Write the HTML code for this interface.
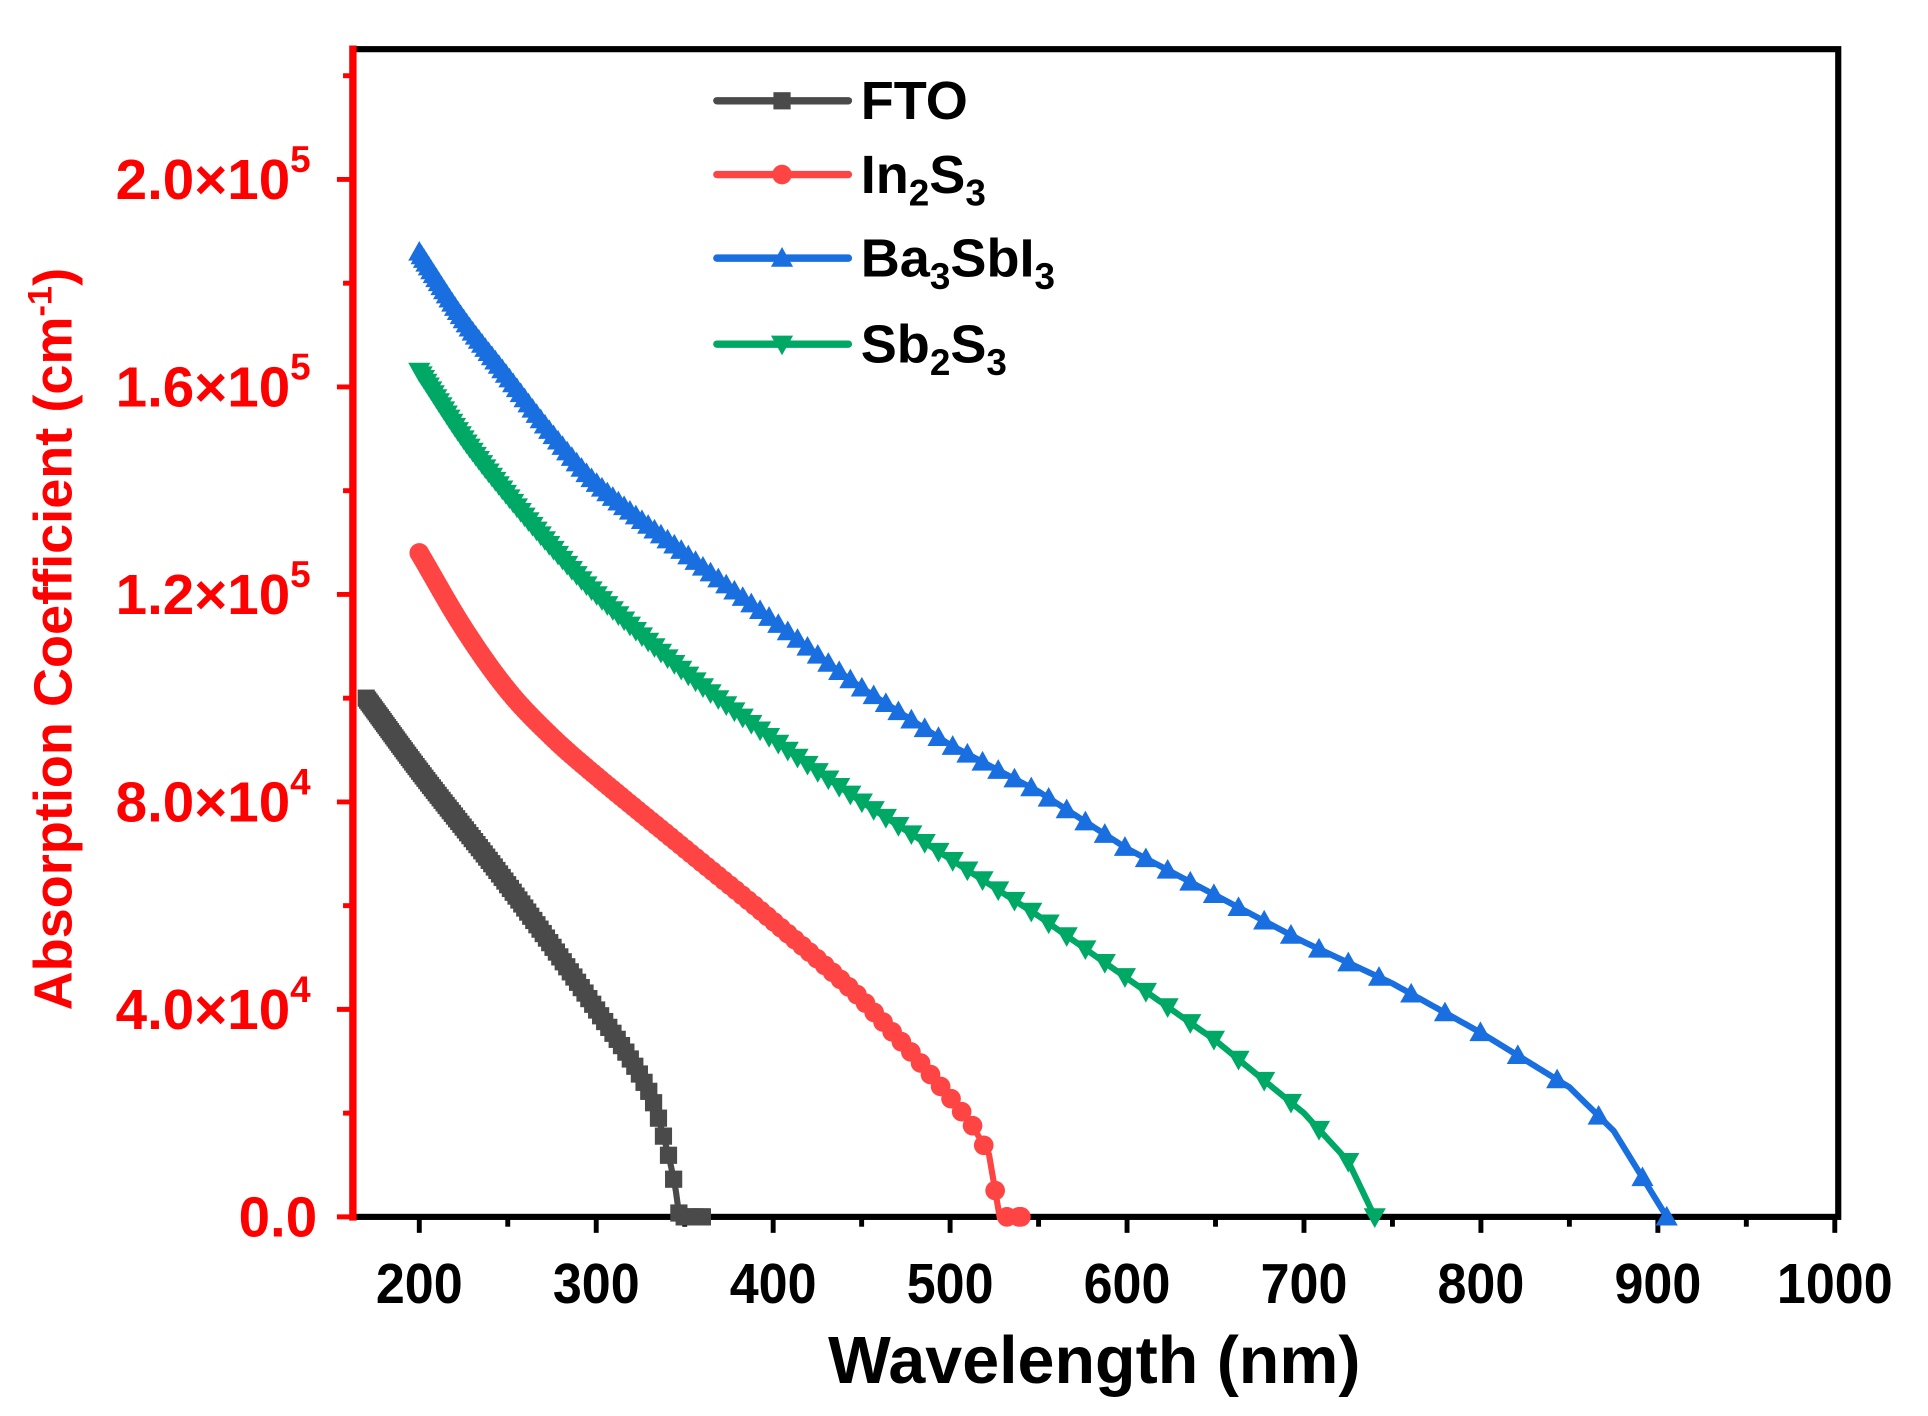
<!DOCTYPE html><html><head><style>html,body{margin:0;padding:0;background:#fff}svg{display:block}</style></head><body>
<svg id="s" width="1928" height="1416" viewBox="0 0 1568 1152" preserveAspectRatio="none" xmlns="http://www.w3.org/2000/svg" font-family="Liberation Sans, Arial, sans-serif" font-weight="bold"></svg>
<script>
const S=document.getElementById('s');const NS='http://www.w3.org/2000/svg';
function el(t,a,txt){const e=document.createElementNS(NS,t);for(const k in a)e.setAttribute(k,a[k]);if(txt!==undefined)e.textContent=txt;S.appendChild(e);return e;}
const X=v=>341+(v-200)*1.439, Y=v=>990-v/40000*168.8;
el('rect',{x:287,y:40,width:1208,height:950,fill:'none',stroke:'#000','stroke-width':5});
el('line',{x1:287,y1:37,x2:287,y2:993,stroke:'#f00','stroke-width':6});
for(let v=200;v<=1000;v+=50){const x=X(v);el('line',{x1:x,y1:990,x2:x,y2:v%100?998:1003,stroke:'#000','stroke-width':4});
 if(v%100==0)el('text',{x:x,y:1060,'text-anchor':'middle','font-size':46,transform:`translate(${x},0) scale(0.92,1) translate(${-x},0)`},v);}
for(let v=0;v<=220000;v+=20000){const y=Y(v);el('line',{x1:287,y1:y,x2:v%40000?279:274,y2:y,stroke:'#f00','stroke-width':4});}
const yl=['0.0','4.0×10','8.0×10','1.2×10','1.6×10','2.0×10'],ex=['','4','4','5','5','5'];
yl.forEach((t,i)=>{const y=Y(i*40000)+16;el('text',{x:ex[i]?236:258,y:y,'text-anchor':'end','font-size':46,fill:'#f00'},t);
 if(ex[i])el('text',{x:236,y:y-22,'font-size':30,fill:'#f00'},ex[i]);});
el('text',{x:890,y:1125,'text-anchor':'middle','font-size':54},'Wavelength (nm)');
const g=el('text',{transform:'translate(58,520) rotate(-90)','text-anchor':'middle','font-size':44,fill:'#f00'});
g.innerHTML='Absorption Coefficient (cm<tspan dy="-16" font-size="28">-1</tspan><tspan dy="16">)</tspan>';
const data={
fto:{c:'#4a4a4a',m:'sq',k:2.5e-5,p:[[170,100e3],[200,86e3],[250,64e3],[300,40e3],[330,24e3],[340,13e3],[345,5e3],[347,0],[360,0]]},
in:{c:'#f44',m:'ci',k:2.4e-5,p:[[200,128e3],[225,113.5e3],[250,101.5e3],[275,92.5e3],[300,85e3],[350,71e3],[400,57e3],[450,42e3],[480,31e3],[500,23e3],[512,18e3],[522,12e3],[528,0],[540,0]]},
ba:{c:'#1a6fe0',m:'up',k:3.3e-5,p:[[200,186e3],[225,173e3],[250,162e3],[275,151e3],[300,141.5e3],[350,128e3],[400,115e3],[450,102e3],[500,91e3],[550,82e3],[600,71e3],[650,62e3],[700,53e3],[750,45e3],[800,35.5e3],[850,25e3],[875,16.6e3],[905,0]]},
sb:{c:'#00a866',m:'dn',k:3.3e-5,p:[[200,163e3],[225,150e3],[250,139e3],[275,129e3],[300,120e3],[350,105e3],[400,92e3],[450,80e3],[500,69e3],[550,58e3],[600,46e3],[650,34e3],[700,20e3],[725,10.7e3],[740,0]]}};
function interp(p,x){for(let i=0;i<p.length-1;i++)if(x>=p[i][0]&&x<=p[i+1][0]){
 const p0=p[Math.max(0,i-1)],p1=p[i],p2=p[i+1],p3=p[Math.min(p.length-1,i+2)];
 const h=p2[0]-p1[0],t=(x-p1[0])/h;
 if(p1[0]>=450||p2[1]==0) return p1[1]+t*(p2[1]-p1[1]);
 const m1=(p2[1]-p0[1])/(p2[0]-p0[0]||1)*h, m2=(p3[1]-p1[1])/(p3[0]-p1[0]||1)*h;
 const t2=t*t,t3=t2*t;
 let v=(2*t3-3*t2+1)*p1[1]+(t3-2*t2+t)*m1+(-2*t3+3*t2)*p2[1]+(t3-t2)*m2;
 return Math.max(0,v);}return p[p.length-1][1];}
function mk(m,x,y,c){if(m=='sq')el('rect',{x:x-7,y:y-7,width:14,height:14,fill:c});
else if(m=='ci')el('circle',{cx:x,cy:y,r:8,fill:c});
else if(m=='up')el('polygon',{points:`${x},${y-9} ${x-9},${y+7} ${x+9},${y+7}`,fill:c});
else el('polygon',{points:`${x},${y+9} ${x-9},${y-7} ${x+9},${y-7}`,fill:c});}
for(const k in data){const d=data[k];const p=d.p;const xs=[];let x=p[0][0];const end=p[p.length-1][0];
 while(x<end){xs.push(x);x+=Math.max(0.8,d.k*x*x);}xs.push(end);
 const ln=[];for(let v=p[0][0];v<end;v+=1)ln.push(v);ln.push(end);
 el('polyline',{points:ln.map(v=>X(v)+','+Y(interp(p,v))).join(' '),fill:'none',stroke:d.c,'stroke-width':5});
 xs.forEach(v=>mk(d.m,X(v),Y(interp(p,v)),d.c));}
const L=[['fto',82,'FTO'],['in',142,'In<tspan dy="10" font-size="30">2</tspan><tspan dy="-10">S</tspan><tspan dy="10" font-size="30">3</tspan>'],['ba',210,'Ba<tspan dy="10" font-size="30">3</tspan><tspan dy="-10">SbI</tspan><tspan dy="10" font-size="30">3</tspan>'],['sb',280,'Sb<tspan dy="10" font-size="30">2</tspan><tspan dy="-10">S</tspan><tspan dy="10" font-size="30">3</tspan>']];
L.forEach(([k,y,t])=>{const d=data[k];el('line',{x1:583,y1:y,x2:690,y2:y,stroke:d.c,'stroke-width':6,'stroke-linecap':'round'});mk(d.m,636,y,d.c);
 const tx=el('text',{x:700,y:y+15,'font-size':44});tx.innerHTML=t;});
</script></body></html>
